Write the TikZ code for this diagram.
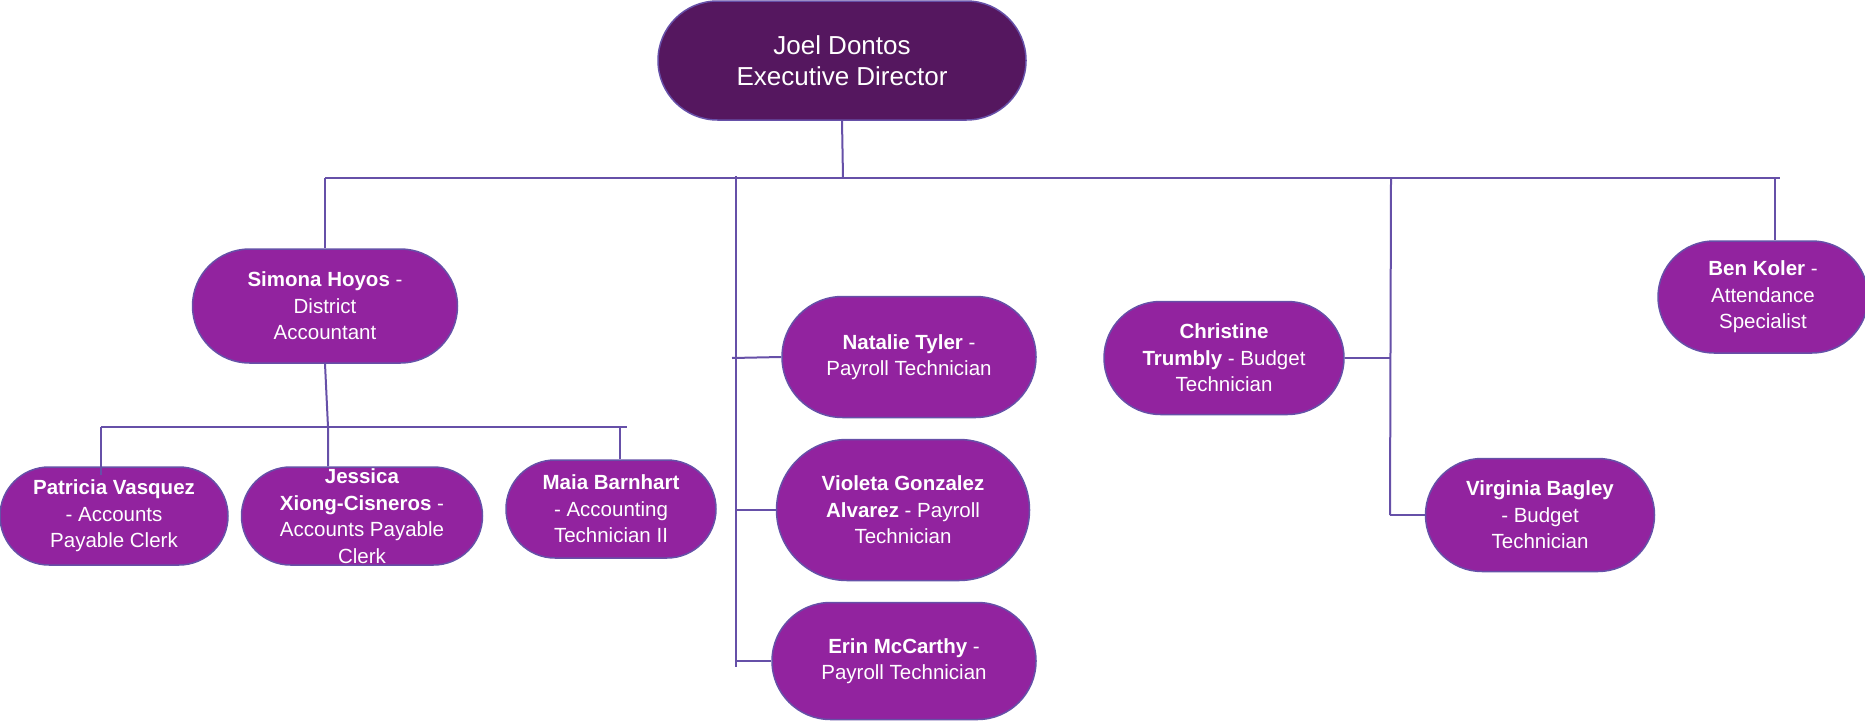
\documentclass[tikz,border=0pt]{standalone}
\usepackage{fontspec}
\setmainfont{Liberation Sans}
\usetikzlibrary{shapes.misc}
\definecolor{bosspurple}{HTML}{55175F}
\definecolor{staffpurple}{HTML}{92239F}
\definecolor{edgeblue}{HTML}{6650A8}
\begin{document}
\begin{tikzpicture}[x=1pt,y=-1pt,
    boss/.style={rounded rectangle, draw=edgeblue, line width=1.5pt, fill=bosspurple,
      text=white, align=center, inner sep=0pt, font=\fontsize{26}{31}\selectfont},
    staff/.style={rounded rectangle, draw=edgeblue, line width=1.5pt, fill=staffpurple,
      text=white, align=center, inner sep=0pt, font=\fontsize{20.5}{26.5}\selectfont},
    link/.style={draw=edgeblue, line width=2pt}]
      \useasboundingbox (0,0) rectangle (1865,720);
      % people
      \node[boss, minimum width=368pt, minimum height=119pt] (jd) at (842,60.5) {Joel Dontos\\Executive Director};
      \node[staff, minimum width=265pt, minimum height=114pt] (sh) at (325,306) {\textbf{Simona Hoyos} -\\District\\Accountant};
      \node[staff, minimum width=228pt, minimum height=98pt] (pv) at (114,516) {\textbf{Patricia Vasquez}\\- Accounts\\Payable Clerk};
      \node[staff, minimum width=241pt, minimum height=98pt] (jx) at (362,516) {\textbf{Jessica}\\\textbf{Xiong-Cisneros} -\\Accounts Payable\\Clerk};
      \node[staff, minimum width=210pt, minimum height=98pt] (mb) at (611,509) {\textbf{Maia Barnhart}\\- Accounting\\Technician II};
      \node[staff, minimum width=254pt, minimum height=121pt] (nt) at (909,357) {\textbf{Natalie Tyler} -\\Payroll Technician};
      \node[staff, minimum width=253pt, minimum height=141pt] (vg) at (903,510) {\textbf{Violeta Gonzalez}\\\textbf{Alvarez} - Payroll\\Technician};
      \node[staff, minimum width=264pt, minimum height=117pt] (em) at (904,661) {\textbf{Erin McCarthy} -\\Payroll Technician};
      \node[staff, minimum width=240pt, minimum height=113pt] (ct) at (1224,358) {\textbf{Christine}\\\textbf{Trumbly} - Budget\\Technician};
      \node[staff, minimum width=229pt, minimum height=113pt] (vb) at (1540,515) {\textbf{Virginia Bagley}\\- Budget\\Technician};
      \node[staff, minimum width=210pt, minimum height=112pt] (bk) at (1763,297) {\textbf{Ben Koler} -\\Attendance\\Specialist};
      % bus points
      \coordinate (busl) at (325,178);
      \coordinate (busr) at (1780,178);
      \coordinate (busj) at (843,178);
      \coordinate (payt) at (736,176);
      \coordinate (payb) at (736,667);
      \coordinate (budt) at (1391,178);
      \coordinate (budb) at (1390,515);
      \coordinate (benb) at (1775,178);
      \coordinate (subl) at (101,427);
      \coordinate (subr) at (627,427);
      \coordinate (subj) at (328,427);
      \coordinate (subm) at (620,427);
      \coordinate (pvt) at (101,475);
      % horizontal lines
      \draw[link] (busl) -- (busr);
      \draw[link] (subl) -- (subr);
      \draw[link] (732,358) -- (nt.west);
      \draw[link] (payt |- vg.west) -- (vg.west);
      \draw[link] (payt |- em.west) -- (em.west);
      \draw[link] (ct.east) -- (budt |- ct.east);
      \draw[link] (budb) -- (vb.west);
      % vertical lines
      \draw[link] (jd.south) -- (busj);
      \draw[link] (busl) -- (sh.north);
      \draw[link] (payt) -- (payb);
      \draw[link] (budt) -- (budb);
      \draw[link] (benb) -- (benb |- bk.north);
      \draw[link] (sh.south) -- (subj) -- (jx.north -| subj);
      \draw[link] (subl) -- (pvt);
      \draw[link] (subm) -- (subm |- mb.north);
\end{tikzpicture}
\end{document}
